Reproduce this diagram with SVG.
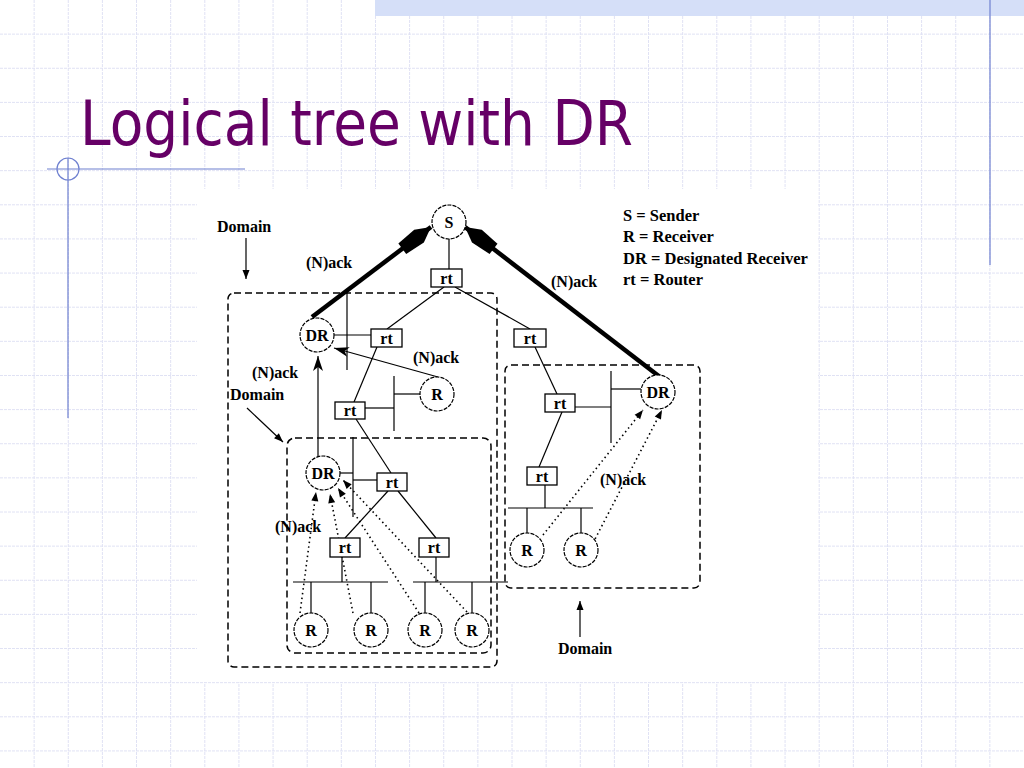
<svg xmlns="http://www.w3.org/2000/svg" width="1024" height="768" viewBox="0 0 1024 768">
<style>
.grid{stroke:#e0e2f4;stroke-width:1;stroke-dasharray:3,1;fill:none}
.deco{stroke:#6f80d0;stroke-width:1.2;fill:none}
.ln{stroke:#000;stroke-width:1.2;fill:none}
.thick{stroke:#000;stroke-width:4.5;fill:none}
.dot{stroke:#000;stroke-width:1.6;stroke-dasharray:1.5,3.2;fill:none}
.dom{stroke:#000;stroke-width:1.5;stroke-dasharray:7,4;fill:none}
.circ{stroke:#000;stroke-width:1.2;stroke-dasharray:4,1.2;fill:#fff}
.box{stroke:#000;stroke-width:1.3;fill:#fff}
.t{font-family:"Liberation Serif","Times New Roman",serif;font-weight:bold;font-size:16px;fill:#000}
.c{text-anchor:middle}
.lg{font-size:16.5px}
.title{font-family:"DejaVu Sans",Verdana,sans-serif;font-size:62px;fill:#660066}
</style>
<defs>
<marker id="big" markerUnits="userSpaceOnUse" markerWidth="40" markerHeight="20" refX="36" refY="10" orient="auto" overflow="visible"><path d="M0,3.5 L21,2 L36,10 L21,18 L0,16.5 Z" fill="#000"/></marker>
<marker id="med" markerUnits="userSpaceOnUse" markerWidth="16" markerHeight="12" refX="15" refY="6" orient="auto" overflow="visible"><path d="M0,1 L15,6 L0,11 L4,6 Z" fill="#000"/></marker>
<marker id="sm" markerUnits="userSpaceOnUse" markerWidth="10" markerHeight="8" refX="9" refY="4" orient="auto" overflow="visible"><path d="M0,0.5 L9,4 L0,7.5 Z" fill="#000"/></marker>
</defs>
<rect width="1024" height="768" fill="#fff"/>
<path class="grid" d="M34.13,0V768M68.27,0V768M102.4,0V768M136.53,0V768M170.67,0V768M204.8,0V768M238.93,0V768M273.07,0V768M307.2,0V768M341.33,0V768M375.47,0V768M409.6,0V768M443.73,0V768M477.87,0V768M512,0V768M546.13,0V768M580.27,0V768M614.4,0V768M648.53,0V768M682.67,0V768M716.8,0V768M750.93,0V768M785.07,0V768M819.2,0V768M853.33,0V768M887.47,0V768M921.6,0V768M955.73,0V768M989.87,0V768M0,34.13H1024M0,68.27H1024M0,102.4H1024M0,136.53H1024M0,170.67H1024M0,204.8H1024M0,238.93H1024M0,273.07H1024M0,307.2H1024M0,341.33H1024M0,375.47H1024M0,409.6H1024M0,443.73H1024M0,477.87H1024M0,512H1024M0,546.13H1024M0,580.27H1024M0,614.4H1024M0,648.53H1024M0,682.67H1024M0,716.8H1024M0,750.93H1024"/>
<rect x="375" y="0" width="649" height="16" fill="#d5dff8"/>
<line class="deco" x1="990" y1="0" x2="990" y2="265"/>
<line class="deco" x1="47" y1="169" x2="245" y2="169"/>
<line class="deco" x1="68" y1="158" x2="68" y2="418"/>
<circle class="deco" cx="68" cy="169" r="11"/>
<text class="title" x="80" y="145" textLength="553" lengthAdjust="spacingAndGlyphs">Logical tree with DR</text>
<rect x="197" y="189" width="621" height="493" fill="#fff"/>

<g id="domains">
<rect class="dom" x="228" y="293" width="269" height="374" rx="6"/>
<rect class="dom" x="287" y="438" width="204" height="215" rx="8"/>
<rect class="dom" x="505" y="365" width="195" height="223" rx="6"/>
</g>

<g id="connectors">
<line class="ln" x1="449" y1="239" x2="449" y2="269"/>
<line class="ln" x1="444" y1="287" x2="387" y2="329"/>
<line class="ln" x1="455" y1="287" x2="530" y2="329"/>
<line class="ln" x1="334" y1="335" x2="371" y2="335"/>
<line class="ln" x1="347" y1="291" x2="347" y2="370"/>
<line class="ln" x1="377" y1="347" x2="354" y2="402"/>
<line class="ln" x1="365" y1="408" x2="394" y2="408"/>
<line class="ln" x1="394" y1="376" x2="394" y2="431"/>
<line class="ln" x1="394" y1="394" x2="420" y2="394"/>
<line class="ln" x1="356" y1="419" x2="391" y2="473"/>
<line class="ln" x1="353" y1="437" x2="353" y2="517"/>
<line class="ln" x1="340" y1="473" x2="353" y2="473"/>
<line class="ln" x1="353" y1="480" x2="377" y2="480"/>
<line class="ln" x1="388" y1="491" x2="345" y2="538"/>
<line class="ln" x1="398" y1="491" x2="436" y2="538"/>
<line class="ln" x1="342" y1="557" x2="342" y2="582"/>
<line class="ln" x1="436" y1="557" x2="436" y2="582"/>
<line class="ln" x1="293" y1="582" x2="388" y2="582"/>
<line class="ln" x1="413" y1="582" x2="508" y2="582"/>
<line class="ln" x1="311" y1="582" x2="311" y2="613"/>
<line class="ln" x1="371" y1="582" x2="371" y2="613"/>
<line class="ln" x1="425" y1="582" x2="425" y2="613"/>
<line class="ln" x1="472" y1="582" x2="472" y2="613"/>
<line class="ln" x1="535" y1="347" x2="557" y2="394"/>
<line class="ln" x1="575" y1="407" x2="611" y2="407"/>
<line class="ln" x1="611" y1="371" x2="611" y2="443"/>
<line class="ln" x1="611" y1="389" x2="641" y2="389"/>
<line class="ln" x1="562" y1="412" x2="539" y2="467"/>
<line class="ln" x1="545" y1="485" x2="545" y2="508"/>
<line class="ln" x1="508" y1="508" x2="593" y2="508"/>
<line class="ln" x1="527" y1="508" x2="527" y2="533"/>
<line class="ln" x1="581" y1="508" x2="581" y2="533"/>
<line class="thick" x1="312" y1="317" x2="431" y2="227" marker-end="url(#big)"/>
<line class="thick" x1="660" y1="377" x2="465" y2="227" marker-end="url(#big)"/>
<line class="ln" x1="438" y1="377" x2="334" y2="348" marker-end="url(#med)"/>
<line class="ln" stroke-width="1.6" x1="318" y1="457" x2="318" y2="356" marker-end="url(#med)"/>
<line class="dot" x1="300" y1="613" x2="316" y2="492" marker-end="url(#sm)"/>
<line class="dot" x1="353" y1="613" x2="330" y2="494" marker-end="url(#sm)"/>
<line class="dot" x1="419" y1="613" x2="338" y2="488" marker-end="url(#sm)"/>
<line class="dot" x1="467" y1="612" x2="343" y2="480" marker-end="url(#sm)"/>
<line class="dot" x1="543" y1="535" x2="643" y2="410" marker-end="url(#sm)"/>
<line class="dot" x1="593" y1="543" x2="662" y2="410" marker-end="url(#sm)"/>
<line class="ln" stroke-width="1.3" x1="246" y1="238" x2="246" y2="279" marker-end="url(#sm)"/>
<line class="ln" stroke-width="1.3" x1="247" y1="408" x2="283" y2="442" marker-end="url(#sm)"/>
<line class="ln" stroke-width="1.3" x1="580" y1="637" x2="580" y2="601" marker-end="url(#sm)"/>
</g>

<g id="S"><circle class="circ" cx="449" cy="222" r="17"/><text class="t c" x="449" y="228">S</text></g>
<g id="rt0"><rect class="box" x="431" y="269" width="31" height="18"/><text class="t c" x="446.5" y="284" font-size="17">rt</text></g>
<g id="rt1L"><rect class="box" x="371" y="329" width="31" height="18"/><text class="t c" x="386.5" y="344" font-size="17">rt</text></g>
<g id="rt1R"><rect class="box" x="514" y="329" width="32" height="18"/><text class="t c" x="530" y="344" font-size="17">rt</text></g>
<g id="DR1"><circle class="circ" cx="317" cy="335" r="17"/><text class="t c" x="317" y="341">DR</text></g>
<g id="rt2"><rect class="box" x="335" y="402" width="30" height="17"/><text class="t c" x="350" y="416" font-size="17">rt</text></g>
<g id="R1"><circle class="circ" cx="437" cy="394" r="17"/><text class="t c" x="437" y="400">R</text></g>
<g id="DR2"><circle class="circ" cx="323" cy="473" r="17"/><text class="t c" x="323" y="479">DR</text></g>
<g id="rt3"><rect class="box" x="377" y="473" width="30" height="18"/><text class="t c" x="392" y="488" font-size="17">rt</text></g>
<g id="rt4L"><rect class="box" x="330" y="538" width="30" height="19"/><text class="t c" x="345" y="553" font-size="17">rt</text></g>
<g id="rt4R"><rect class="box" x="419" y="538" width="30" height="19"/><text class="t c" x="434" y="553" font-size="17">rt</text></g>
<g id="R2"><circle class="circ" cx="311" cy="630" r="17"/><text class="t c" x="311" y="636">R</text></g>
<g id="R3"><circle class="circ" cx="371" cy="630" r="17"/><text class="t c" x="371" y="636">R</text></g>
<g id="R4"><circle class="circ" cx="425" cy="630" r="17"/><text class="t c" x="425" y="636">R</text></g>
<g id="R5"><circle class="circ" cx="472" cy="630" r="17"/><text class="t c" x="472" y="636">R</text></g>
<g id="rt5"><rect class="box" x="545" y="394" width="30" height="18"/><text class="t c" x="560" y="409" font-size="17">rt</text></g>
<g id="DR3"><circle class="circ" cx="658" cy="392" r="17"/><text class="t c" x="658" y="398">DR</text></g>
<g id="rt6"><rect class="box" x="527" y="467" width="30" height="18"/><text class="t c" x="542" y="482" font-size="17">rt</text></g>
<g id="R6"><circle class="circ" cx="527" cy="550" r="17"/><text class="t c" x="527" y="556">R</text></g>
<g id="R7"><circle class="circ" cx="581" cy="550" r="17"/><text class="t c" x="581" y="556">R</text></g>

<g id="labels">
<text class="t" x="217" y="232">Domain</text>
<text class="t" x="230" y="400">Domain</text>
<text class="t" x="558" y="654">Domain</text>
<text class="t" x="306" y="268">(N)ack</text>
<text class="t" x="551" y="287">(N)ack</text>
<text class="t" x="413" y="363">(N)ack</text>
<text class="t" x="252" y="378">(N)ack</text>
<text class="t" x="275" y="532">(N)ack</text>
<text class="t" x="600" y="485">(N)ack</text>
</g>

<g id="legend">
<text class="t lg" x="623" y="221">S = Sender</text>
<text class="t lg" x="623" y="242">R = Receiver</text>
<text class="t lg" x="623" y="264">DR = Designated Receiver</text>
<text class="t lg" x="623" y="285">rt = Router</text>
</g>
</svg>
